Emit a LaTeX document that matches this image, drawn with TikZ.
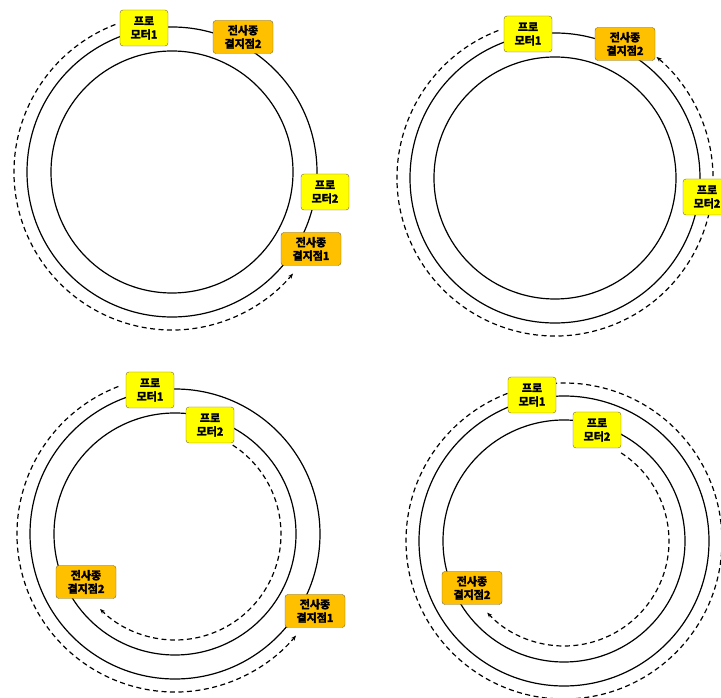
\documentclass[tikz,border=0pt]{standalone}
\usepackage{fontspec}
\newfontfamily\krfont{Noto Sans CJK KR Bold}[FakeBold=3]
\usetikzlibrary{arrows.meta}

\definecolor{promoyellow}{RGB}{255,255,0}
\definecolor{termorange}{RGB}{255,192,0}
\definecolor{boxedge}{RGB}{120,105,45}

\tikzset{
  promoter/.style={draw=boxedge, fill=promoyellow, rounded corners=3pt, align=center,
    minimum width=48pt, minimum height=36pt, inner sep=1pt,
    font=\krfont\fontsize{11}{13.5}\selectfont},
  terminator/.style={promoter, fill=termorange, minimum width=60pt, minimum height=33pt},
  ring/.style={line width=1.2pt},
  transcript/.style={line width=1.2pt, dash pattern=on 5pt off 3.5pt, -{Stealth[length=5pt,width=4pt]}},
  readthrough/.style={line width=1.2pt, dash pattern=on 5pt off 3.5pt}
}

\begin{document}
\begin{tikzpicture}[x=1pt, y=1pt]

\useasboundingbox (0,0) rectangle (721,697);

% centres of the four plasmids
\coordinate (c1) at (172,525);
\coordinate (c2) at (555,519);
\coordinate (c3) at (175,163);
\coordinate (c4) at (564,156);

% double rings
\foreach \c in {c1,c2,c3,c4}{
  \draw[ring] (\c) circle[radius=145];
  \draw[ring] (\c) circle[radius=121];
}

% transcripts (dashed)
\draw[transcript] ([shift={(111:158)}]c1) arc[start angle=111, end angle=320, radius=158];
\draw[transcript] ([shift={(111:158)}]c2) arc[start angle=111, end angle=410, radius=158];
\draw[transcript] ([shift={(111:158)}]c3) arc[start angle=111, end angle=320, radius=158];
\draw[transcript] ([shift={(57:106)}]c3) arc[start angle=57, end angle=-135, radius=106];
\draw[readthrough] (c4) circle[radius=158];
\draw[transcript] ([shift={(57:105)}]c4) arc[start angle=57, end angle=-137, radius=105];

% panel 1
\node[promoter]   (p1prom1) at (144,669) {프로\\모터1};
\node[terminator] (p1term2) at (243,660) {전사종\\결지점2};
\node[promoter]   (p1prom2) at (325,505) {프로\\모터2};
\node[terminator] (p1term1) at (311,448) {전사종\\결지점1};

% panel 2
\node[promoter]   (p2prom1) at (528,663) {프로\\모터1};
\node[terminator] (p2term2) at (625,653) {전사종\\결지점2};
\node[promoter]   (p2prom2) at (707,500) {프로\\모터2};

% panel 3
\node[promoter]   (p3prom1) at (150,307) {프로\\모터1};
\node[promoter]   (p3prom2) at (210,272) {프로\\모터2};
\node[terminator] (p3term2) at (86,115)  {전사종\\결지점2};
\node[terminator] (p3term1) at (315,86)  {전사종\\결지점1};

% panel 4
\node[promoter]   (p4prom1) at (532,302) {프로\\모터1};
\node[promoter]   (p4prom2) at (597,267) {프로\\모터2};
\node[terminator] (p4term2) at (472,109) {전사종\\결지점2};

\end{tikzpicture}
\end{document}
